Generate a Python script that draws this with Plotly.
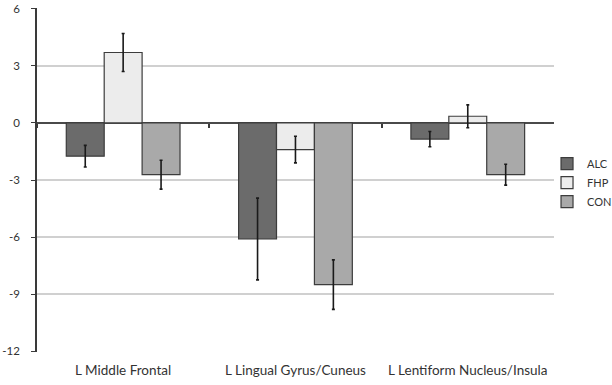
import plotly.graph_objects as go

categories = ["L Middle Frontal", "L Lingual Gyrus/Cuneus", "L Lentiform Nucleus/Insula"]
series_names = ["ALC", "FHP", "CON"]
alc = [-1.75, -6.1, -0.85]
alc_err = [0.57, 2.15, 0.4]
fhp = [3.7, -1.4, 0.35]
fhp_err = [1.0, 0.7, 0.6]
con = [-2.72, -8.5, -2.72]
con_err = [0.76, 1.3, 0.55]
y_ticks = [6, 3, 0, -3, -6, -9, -12]

colors = ["#6b6b6b", "#ececec", "#a9a9a9"]
values = [alc, fhp, con]
errors = [alc_err, fhp_err, con_err]

y_range = [-12.04, 6.04]

fig = go.Figure()
for name, vals, errs, col in zip(series_names, values, errors, colors):
    fig.add_trace(go.Bar(
        x=categories, y=vals, name=name,
        marker=dict(color=col, line=dict(color="#3c3c3c", width=1.2)),
        error_y=dict(type="data", array=errs, visible=True,
                     color="#1a1a1a", thickness=1.6, width=1.5),
    ))

# helper trace so the category-boundary tick axis at y=0 is drawn
fig.add_trace(go.Scatter(x=categories, y=[None] * len(categories), xaxis="x2",
                         mode="markers", showlegend=False, hoverinfo="skip"))

zero_pos = (0 - y_range[0]) / (y_range[1] - y_range[0])

fig.update_layout(
    width=612, height=385,
    margin=dict(l=37, r=0, t=8, b=33, autoexpand=False),
    paper_bgcolor="white", plot_bgcolor="white",
    barmode="group", bargap=0.34, bargroupgap=0,
    font=dict(family="Lato, 'Open Sans', sans-serif", size=11, color="#333333"),
    showlegend=True,
    legend=dict(x=0.887, y=0.59, xanchor="left", yanchor="top",
                font=dict(size=11, color="#333333"),
                itemwidth=30, tracegroupgap=0, traceorder="normal",
                bgcolor="rgba(0,0,0,0)"),
    xaxis=dict(domain=[0, 0.899], showgrid=False, showline=False, ticks="",
               tickfont=dict(size=13.5, color="#333333"),
               ticklabelstandoff=8),
    xaxis2=dict(domain=[0, 0.899], overlaying="x", matches="x", anchor="free",
                position=zero_pos, side="bottom", showgrid=False,
                showline=False, showticklabels=False, ticks="outside",
                tickson="boundaries", ticklen=4, tickcolor="#3a3a3a",
                tickwidth=1.5),
    yaxis=dict(range=y_range, tickvals=y_ticks,
               ticktext=[str(v) for v in y_ticks],
               showgrid=True, gridcolor="#d0d0d0", gridwidth=1.5,
               zeroline=True, zerolinecolor="#4a4a4a", zerolinewidth=1.5,
               showline=True, linecolor="#3a3a3a", linewidth=1.5,
               ticks="outside", ticklen=4, tickcolor="#3a3a3a",
               ticklabelstandoff=9,
               tickfont=dict(size=11.5, color="#333333")),
)

fig.write_html("out.html", post_script="document.body.style.margin='0';",
               config={"displayModeBar": False})
